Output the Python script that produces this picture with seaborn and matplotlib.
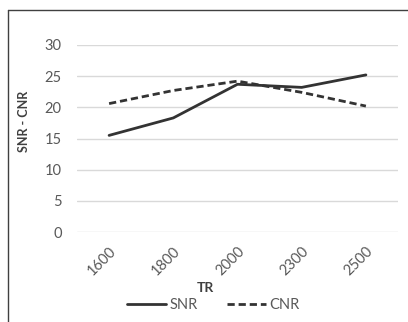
import pandas as pd
import seaborn as sns
import matplotlib.pyplot as plt
from matplotlib.lines import Line2D

tr_values = ["1600", "1800", "2000", "2300", "2500"]
snr = [15.5, 18.3, 23.7, 23.2, 25.2]
cnr = [20.6, 22.7, 24.2, 22.4, 20.2]

df = pd.DataFrame({
    "TR": tr_values * 2,
    "value": snr + cnr,
    "series": ["SNR"] * len(snr) + ["CNR"] * len(cnr),
})

sns.set_style("white")
plt.rcParams["font.family"] = ["Lato", "DejaVu Sans"]

fig = plt.figure(figsize=(4.08, 3.22), dpi=100)
ax = fig.add_axes([77 / 408, 1 - 232 / 322, 321 / 408, 187 / 322])

line_color = "#333333"
dash = (2.6, 1.4)
sns.lineplot(
    data=df, x="TR", y="value", style="series",
    dashes={"SNR": "", "CNR": dash},
    color=line_color, linewidth=2.0, sort=False, legend=False, ax=ax,
)

ax.set_ylim(0, 30)
ax.set_xlim(-0.5, len(tr_values) - 0.5)
ax.set_yticks(range(0, 31, 5))
ax.yaxis.grid(True, color="#d9d9d9", linewidth=1)
ax.set_axisbelow(True)
for s in ax.spines.values():
    s.set_visible(False)

ax.tick_params(axis="both", length=0, labelsize=10.5, labelcolor="#595959")
ax.tick_params(axis="y", pad=11)
ax.tick_params(axis="x", pad=9)
for lbl in ax.get_xticklabels():
    lbl.set_rotation(45)
    lbl.set_ha("right")
    lbl.set_rotation_mode("anchor")

ax.set_xlabel("TR", fontsize=10, fontweight="bold", color="#404040")
ax.xaxis.set_label_coords(0.4, -0.27)
ax.set_ylabel("SNR - CNR", fontsize=9, fontweight="bold", color="#404040")
ax.yaxis.set_label_coords(-0.145, 0.59)

handles = [
    Line2D([], [], color=line_color, linewidth=2.0, linestyle="-"),
    Line2D([], [], color=line_color, linewidth=2.0, dashes=dash),
]
fig.legend(handles, ["SNR", "CNR"], loc="center", bbox_to_anchor=(213 / 408, 1 - 305 / 322),
           ncol=2, frameon=False, fontsize=10.5, handlelength=2.7, handletextpad=0.2,
           columnspacing=2.0, labelcolor="#595959")

# outer chart frame (left and top edges visible)
fx, fy = 8 / 408, 1 - 10 / 322
fig.add_artist(Line2D([fx, fx], [0, fy], color="#404040", linewidth=1, transform=fig.transFigure))
fig.add_artist(Line2D([fx, 1], [fy, fy], color="#404040", linewidth=1, transform=fig.transFigure))

fig.savefig("out.png", dpi=100)
